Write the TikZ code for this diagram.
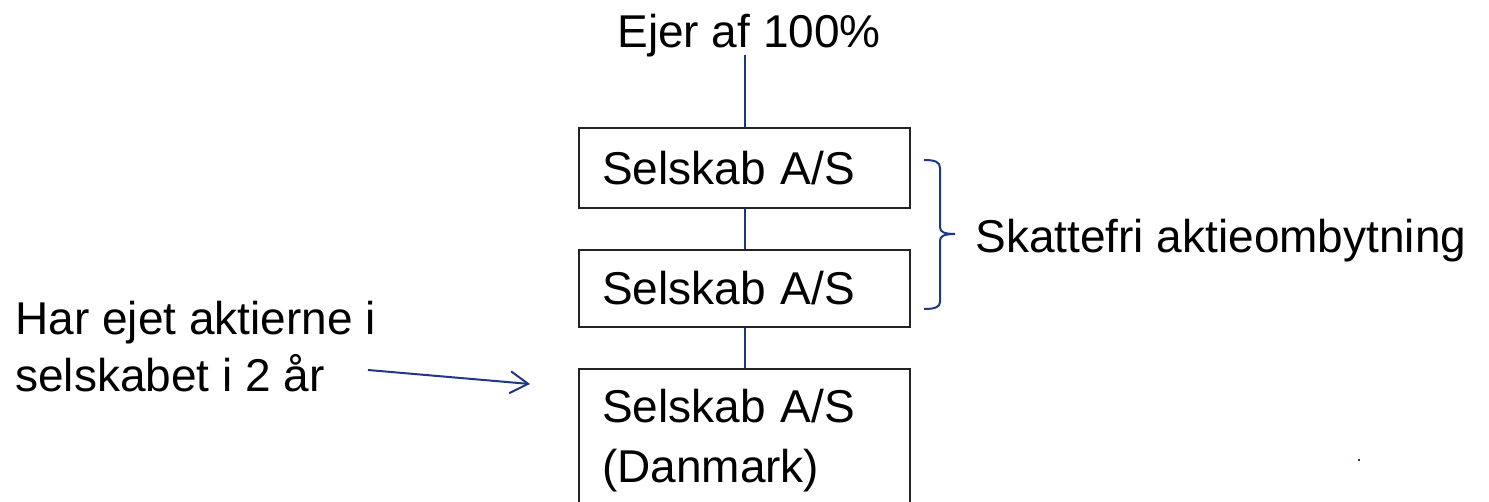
\documentclass[tikz,border=0pt]{standalone}
\usepackage{fontspec}
\setmainfont{Liberation Sans}
\usetikzlibrary{arrows.meta}
\definecolor{navy}{RGB}{30,55,135}
\definecolor{boxline}{RGB}{35,35,35}
\tikzset{
  txt/.style={inner sep=0pt, font=\fontsize{23pt}{28.5pt}\selectfont, text=black},
  firm/.style={draw=boxline, line width=1pt, inner sep=0pt, minimum width=165.5pt,
    text width=142.5pt, align=left, font=\fontsize{23pt}{30pt}\selectfont},
  link/.style={draw=navy, line width=1pt},
  arr/.style={draw=navy, line width=1pt, -{Straight Barb[length=9pt,width=11pt]}}
}
\begin{document}
\begin{tikzpicture}[x=0.5pt,y=-0.5pt]
\clip (0,0) rectangle (1489,502);
\fill[white] (0,0) rectangle (1489,502);
% texts
\node[txt, anchor=base west] (ejer) at (617,48) {Ejer af 100\%};
\node[txt, anchor=base west] (skat) at (975,253) {Skattefri aktieombytning};
\node[txt, anchor=base west, align=left] (har) at (15,392) {Har ejet aktierne i\\selskabet i 2 år};
% boxes
\node[firm, minimum height=40pt] (b1) at (744.5,168) {Selskab A/S};
\node[firm, minimum height=38.5pt] (b2) at (744.5,288.5) {Selskab A/S};
\node[firm, minimum height=72pt] (b3) at (744.5,441) {Selskab A/S\\(Danmark)};
% connectors
\draw[link] (b1.north) -- (b1.north |- 0,55);
\draw[link] (b1.south) -- (b2.north);
\draw[link] (b2.south) -- (b3.north);
% arrow
\coordinate (aS) at (368,370);
\coordinate (aE) at (530,384);
\draw[arr] (aS) -- (aE);
% brace
\draw[link] (924,160) .. controls (935,160) and (940,162) .. (940,168) -- (940,227)
  .. controls (940,232) and (944,234) .. (955,234)
  .. controls (944,234) and (940,236) .. (940,241) -- (940,302)
  .. controls (940,307) and (935,309) .. (924,309);
% stray dot
\fill[navy] (1358,459) rectangle (1360,461);
\end{tikzpicture}
\end{document}
